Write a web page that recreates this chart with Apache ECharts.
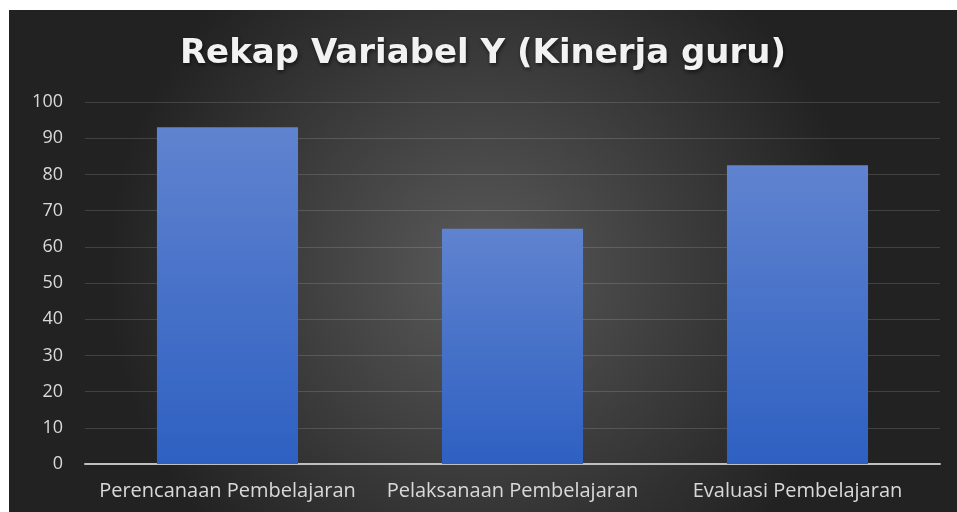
<!DOCTYPE html>
<html><head><meta charset="utf-8">
<script src="https://cdn.jsdelivr.net/npm/echarts@6/dist/echarts.min.js"></script>
<style>
html,body{margin:0;padding:0;background:#fff;width:957px;height:512px;overflow:hidden;}
#c{position:absolute;left:9px;top:10px;width:948px;height:502px;}
</style></head>
<body><div id="c"></div>
<script>
const titleText = 'Rekap Variabel Y (Kinerja guru)';
const categories = ['Perencanaan Pembelajaran', 'Pelaksanaan Pembelajaran', 'Evaluasi Pembelajaran'];
const values = [93, 65, 82.5];
const yMin = 0, yMax = 100, yInterval = 10;

const chart = echarts.init(document.getElementById('c'));
chart.setOption({
  backgroundColor: {
    type: 'radial', x: 0.5, y: 0.52, r: 0.75,
    colorStops: [{offset: 0, color: '#5a5a5a'}, {offset: 1, color: '#222222'}]
  },
  title: {
    text: titleText, left: 'center', top: 22,
    textStyle: {color: '#f2f2f2', fontFamily: 'DejaVu Sans', fontWeight: 'bold', fontSize: 34,
      textShadowColor: 'rgba(0,0,0,0.6)', textShadowBlur: 4, textShadowOffsetX: 1, textShadowOffsetY: 2}
  },
  grid: {left: 76, right: 17, top: 92, bottom: 48, containLabel: false},
  xAxis: {
    type: 'category', data: categories,
    axisLine: {lineStyle: {color: '#bfbfbf', width: 2}},
    axisTick: {show: false},
    axisLabel: {color: '#d9d9d9', fontFamily: 'Open Sans', fontSize: 20, margin: 17, interval: 0}
  },
  yAxis: {
    type: 'value', min: yMin, max: yMax, interval: yInterval,
    axisLine: {show: false}, axisTick: {show: false},
    axisLabel: {color: '#d9d9d9', fontFamily: 'Open Sans', fontSize: 18, margin: 22},
    splitLine: {lineStyle: {color: 'rgba(255,255,255,0.14)', width: 1}}
  },
  series: [{
    type: 'bar', data: values, barWidth: '49.5%',
    itemStyle: {
      color: {type: 'linear', x: 0, y: 0, x2: 0, y2: 1,
        colorStops: [{offset: 0, color: '#6083cf'}, {offset: 1, color: '#2e60c2'}]},
      shadowColor: 'rgba(0,0,0,0.45)', shadowBlur: 6, shadowOffsetX: 2, shadowOffsetY: 0
    }
  }]
});
</script></body></html>
